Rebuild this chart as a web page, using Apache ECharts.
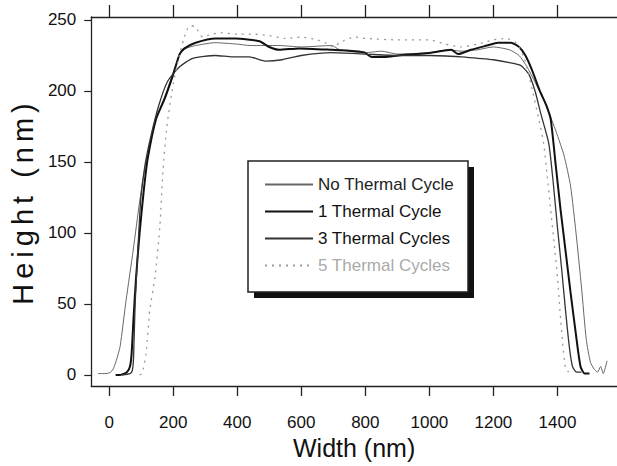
<!DOCTYPE html>
<html><head><meta charset="utf-8">
<script src="https://cdn.jsdelivr.net/npm/echarts@6/dist/echarts.min.js"></script>
<style>html,body{margin:0;padding:0;background:#fff}#c{width:617px;height:466px}</style>
</head><body><div id="c"></div>
<script>
const xTicks = [0, 200, 400, 600, 800, 1000, 1200, 1400];
const yTicks = [0, 50, 100, 150, 200, 250];
const seriesNames = ['No Thermal Cycle', '1 Thermal Cycle', '3 Thermal Cycles', '5 Thermal Cycles'];

const noCycle = [[-35,1],[-10,1],[5,2],[14,5],[22,10],[34,20],[53,53],[75,88],[95,122],[115,150],[146,180],[175,197],[200,213],[222,226],[240,230],[270,232],[330,234],[400,233],[440,232],[530,232],[600,231],[695,232],[720,229],[800,227],[850,228],[900,226],[1000,227],[1060,229],[1100,228],[1150,229],[1200,231],[1250,229],[1280,225],[1305,217],[1326,208],[1357,194],[1390,175],[1420,155],[1441,133],[1458,100],[1475,62],[1490,25],[1503,9],[1515,4],[1525,2],[1535,6],[1543,1],[1555,10]];

const oneCycle = [[20,0],[34,0],[55,2],[65,6],[70,15],[76,40],[84,69],[95,100],[108,130],[120,152],[146,180],[174,195],[199,211],[220,226],[235,230],[270,234],[332,237],[394,237],[469,235],[500,231],[531,229],[593,230],[695,229],[770,228],[798,227],[820,224],[860,224],[903,225],[1006,227],[1068,229],[1090,226],[1130,229],[1180,232],[1214,234],[1255,234],[1280,231],[1300,225],[1320,215],[1345,200],[1365,190],[1379,180],[1395,147],[1410,116],[1425,88],[1441,58],[1458,28],[1472,6],[1485,1],[1500,1]];

const threeCycle = [[40,0],[65,1],[72,3],[76,12],[81,50],[90,90],[99,125],[112,148],[130,168],[155,190],[183,207],[220,217],[261,223],[332,225],[385,224],[438,224],[490,221],[540,222],[600,225],[695,227],[800,226],[900,225],[1000,225],[1100,224],[1150,223],[1200,222],[1250,220],[1285,218],[1310,212],[1330,200],[1348,184],[1373,163],[1387,135],[1400,104],[1413,75],[1425,46],[1437,20],[1447,6],[1460,2],[1475,2]];

const fiveCycle = [[95,0],[102,1],[106,4],[115,15],[127,46],[143,69],[158,104],[168,144],[180,175],[200,205],[218,224],[232,236],[245,244],[255,246],[270,245],[292,238],[320,240],[350,241],[400,240],[450,240],[500,239],[550,237],[600,238],[650,236],[674,234],[700,231],[720,234],[767,238],[800,237],[900,236],[1000,236],[1050,233],[1100,231],[1150,233],[1200,236],[1240,237],[1270,234],[1295,224],[1310,212],[1323,199],[1340,182],[1357,163],[1368,140],[1379,116],[1390,92],[1400,69],[1408,45],[1416,23],[1425,5],[1435,2]];

const FONT = '"Liberation Sans", Arial, Helvetica, sans-serif';
const axisLine = {show: true, onZero: false, lineStyle: {color: '#222', width: 1.3}};
const plain = function (v) { return String(v); };

const chart = echarts.init(document.getElementById('c'), null, {renderer: 'svg'});
const option = {
  animation: false,
  backgroundColor: '#fff',
  grid: {left: 88, top: 17, width: 529, height: 369, containLabel: false},
  xAxis: [{
    type: 'value', position: 'bottom', min: -56, max: 1586,
    axisLine: axisLine,
    axisTick: {show: true, inside: false, length: 10, customValues: xTicks, lineStyle: {color: '#222', width: 1.3}},
    axisLabel: {customValues: xTicks, formatter: plain, margin: 28, fontSize: 17, color: '#111', fontFamily: FONT},
    splitLine: {show: false},
    name: 'Width (nm)', nameLocation: 'middle', nameGap: 45,
    nameTextStyle: {fontSize: 25, color: '#111', fontFamily: FONT}
  }, {
    type: 'value', position: 'top', min: -56, max: 1586,
    axisLine: axisLine,
    axisTick: {show: true, inside: false, length: 12, customValues: xTicks, lineStyle: {color: '#222', width: 1.3}},
    axisLabel: {show: false},
    splitLine: {show: false}
  }],
  yAxis: {
    type: 'value', min: -7.75, max: 252.1,
    axisLine: axisLine,
    axisTick: {show: true, inside: false, length: 7, customValues: yTicks, lineStyle: {color: '#222', width: 1.2}},
    axisLabel: {customValues: yTicks, formatter: plain, margin: 15, fontSize: 17, color: '#111', fontFamily: FONT},
    splitLine: {show: false},
    name: 'Height (nm)', nameLocation: 'middle', nameGap: 27,
    nameTextStyle: {fontSize: 29, color: '#111', fontFamily: FONT}
  },
  legend: {
    orient: 'vertical', left: 264, top: 176, padding: 0,
    itemWidth: 48, itemHeight: 14, itemGap: 10, z: 10,
    itemStyle: {opacity: 0},
    textStyle: {fontSize: 17, color: '#111', fontFamily: FONT},
    data: [
      {name: seriesNames[0], textStyle: {color: '#222'}},
      {name: seriesNames[1]},
      {name: seriesNames[2]},
      {name: seriesNames[3], textStyle: {color: '#aaa'}}
    ]
  },
  graphic: [
    {type: 'rect', z: 5, shape: {x: 254, y: 167, width: 220, height: 131}, style: {fill: '#111'}},
    {type: 'rect', z: 6, shape: {x: 248, y: 161, width: 220, height: 131}, style: {fill: '#fff', stroke: '#222', lineWidth: 1.5}}
  ],
  series: [
    {name: seriesNames[0], type: 'line', symbol: 'none', smooth: 0.2, data: noCycle,
     lineStyle: {color: '#666', width: 1}, itemStyle: {color: '#666'}},
    {name: seriesNames[1], type: 'line', symbol: 'none', smooth: 0.2, data: oneCycle,
     lineStyle: {color: '#111', width: 2}, itemStyle: {color: '#111'}},
    {name: seriesNames[2], type: 'line', symbol: 'none', smooth: 0.2, data: threeCycle,
     lineStyle: {color: '#333', width: 1.3}, itemStyle: {color: '#333'}},
    {name: seriesNames[3], type: 'line', symbol: 'none', smooth: 0.2, data: fiveCycle,
     lineStyle: {color: '#999', width: 1.3, type: [2, 5]}, itemStyle: {color: '#999'}}
  ]
};
chart.setOption(option);
function spaceTitle() {
  document.querySelectorAll('#c text').forEach(function (t) {
    if (t.textContent.trim() === 'Height (nm)') t.style.letterSpacing = '5px';
  });
}
spaceTitle();
chart.on('finished', spaceTitle);
setTimeout(spaceTitle, 50);
</script>
</body></html>
